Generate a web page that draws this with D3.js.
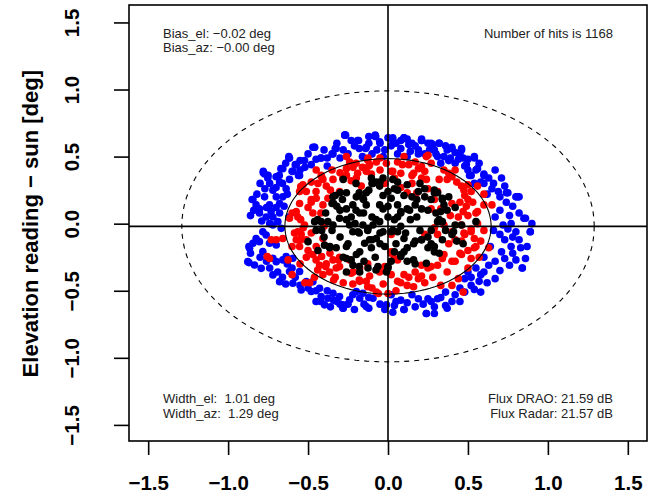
<!DOCTYPE html>
<html>
<head>
<meta charset="utf-8">
<script src="https://cdn.jsdelivr.net/npm/d3@7"></script>
<style>
  body { margin: 0; background: #fff; }
  svg { display: block; font-family: "Liberation Sans", Arial, sans-serif; }
</style>
</head>
<body>
<div id="chart"></div>
<script>
// azimuth / elevation offsets, by colour group
var bluePts = [
  [-0.27,0.66],[-0.19,0.62],[-0.08,0.65],[-0.05,0.6],[-0.14,0.56],[-0.21,0.58],[-0.18,0.56],[-0.33,0.56],[-0.35,0.52],[-0.46,0.57],
  [-0.42,0.49],[-0.38,0.49],[-0.3,0.49],[-0.62,0.49],[-0.55,0.47],[-0.58,0.44],[-0.67,0.41],[-0.6,0.39],[-0.56,0.36],[-0.78,0.39],
  [-0.75,0.36],[0.03,0.64],[0.08,0.62],[0.12,0.63],[0.17,0.58],[0.21,0.62],[0.27,0.6],[0.32,0.6],[0.37,0.55],[0.42,0.53],
  [0.45,0.52],[0.5,0.48],[0.02,0.58],[0.14,0.54],[0.19,0.52],[0.26,0.55],[0.3,0.52],[-0.1,0.52],[-0.25,0.52],[0.08,0.56],
  [-0.02,0.55],[0.35,0.5],[0.42,0.45],[0.48,0.43],[0.55,0.4],[0.6,0.37],[0.52,0.36],[0.38,0.47],[-0.48,0.44],[-0.38,0.43],[-0.52,0.42],
  [0.03,0.62],[0.1,0.64],[0.13,0.59],[0.21,0.62],[0.19,0.55],[0.28,0.59],[0.29,0.55],[0.31,0.5],[0.4,0.56],[0.39,0.49],
  [0.46,0.55],[0.47,0.49],[0.49,0.44],[0.54,0.49],[0.56,0.41],[0.58,0.31],[0.63,0.34],[0.67,0.4],[0.71,0.34],[0.65,0.26],
  [0.69,0.24],[0.75,0.23],[0.8,0.2],[0.74,0.16],[0.78,0.13],[0.7,0.1],[0.67,0.05],[0.72,-0.01],[0.77,0.0],[0.85,0.04],
  [0.89,-0.06],[0.82,-0.12],[0.77,-0.17],[0.73,-0.12],[0.7,-0.08],[0.66,-0.05],[0.71,-0.21],[0.78,-0.22],[0.76,-0.31],[0.84,-0.33],
  [0.67,-0.28],[0.63,-0.31],[0.6,-0.36],[0.67,-0.41],[0.57,-0.43],[0.52,-0.46],[0.54,-0.49],[0.48,-0.51],[0.42,-0.53],[0.45,-0.58],
  [0.36,-0.51],[0.31,-0.56],[0.36,-0.61],[0.29,-0.62],[0.24,-0.67],[0.25,-0.56],[0.19,-0.56],[0.17,-0.62],[0.1,-0.64],[0.08,-0.57],
  [0.04,-0.61],[0.02,-0.53],[0.64,-0.17],[0.6,-0.25],[0.55,-0.33],[0.9,0.0],[0.8,-0.06],[0.83,-0.18],[0.81,0.2],[0.73,0.28],
  [0.6,0.36],[0.51,0.36],[0.54,0.3],[0.5,-0.36],[0.48,-0.41],[0.58,-0.51],
  [-0.265,0.66],[-0.184,0.62],[-0.077,0.65],[-0.052,0.61],[-0.136,0.57],[-0.324,0.56],[-0.344,0.52],[-0.459,0.57],[-0.418,0.49],[-0.616,0.49],
  [-0.522,0.47],[-0.574,0.44],[-0.658,0.41],[-0.595,0.39],[-0.553,0.36],[-0.772,0.37],[-0.752,0.34],[-0.616,0.33],[-0.678,0.31],[-0.637,0.26],
  [-0.72,0.25],[-0.699,0.2],[-0.772,0.2],[-0.845,0.18],[-0.825,0.14],[-0.804,0.11],[-0.741,0.14],[-0.678,0.15],[-0.658,0.2],[-0.731,0.09],
  [-0.72,0.05],[-0.762,0.05],[-0.804,0.08],[-0.678,0.08],[-0.689,0.015],[-0.668,-0.035],[-0.72,-0.01],[-0.783,-0.06],[-0.762,-0.084],[-0.825,-0.11],
  [-0.845,-0.146],[-0.804,-0.134],[-0.866,-0.184],[-0.741,-0.146],[-0.699,-0.159],[-0.783,-0.208],[-0.877,-0.283],[-0.835,-0.308],[-0.793,-0.333],[-0.72,-0.258],
  [-0.699,-0.283],[-0.658,-0.27],[-0.637,-0.246],[-0.595,-0.258],[-0.72,-0.382],[-0.678,-0.432],[-0.616,-0.357],[-0.553,-0.357],[-0.595,-0.444],[-0.543,-0.494],
  [-0.511,-0.432],[-0.47,-0.432],[-0.48,-0.506],[-0.428,-0.481],[-0.418,-0.543],[-0.376,-0.556],[-0.397,-0.605],[-0.344,-0.519],[-0.303,-0.543],[-0.282,-0.605],
  [-0.24,-0.568],[-0.198,-0.506],[-0.177,-0.556],[-0.136,-0.618],[-0.157,-0.519],[-0.094,-0.556],[-0.01,-0.605],[-0.282,-0.63],
  [-0.28,-0.63],[-0.21,-0.64],[-0.12,-0.63],[0.03,-0.66],[0.1,-0.64],[0.24,-0.67],[0.29,-0.67],[0.37,-0.63],[-0.42,-0.58],[-0.34,-0.57],
  [-0.27,0.66],[-0.12,0.65],[-0.08,0.66],[0.1,0.64],[0.21,0.63],[0.32,0.6],[0.4,0.57],[0.46,0.56],[0.54,0.5],[-0.47,0.57],
  [-0.62,0.5],[-0.78,0.38],[-0.85,0.18],[-0.87,-0.17],[-0.87,-0.29],[0.86,0.04],[0.89,-0.06],[0.87,-0.17],[0.84,-0.33],[0.74,0.23],[0.82,0.2],
  [-0.8,0.3],[-0.77,0.26],[-0.82,0.22],[-0.74,0.3],[-0.7,0.35],[-0.66,0.3],[-0.7,0.27],[-0.63,0.22],[-0.76,0.12],[-0.7,0.12],
  [-0.84,0.1],[-0.86,0.06],[-0.79,0.02],[-0.74,0.0],[-0.65,0.13],[-0.62,0.05],
  [-0.86,-0.22],[-0.8,-0.25],[-0.76,-0.28],[-0.74,-0.33],[-0.69,-0.36],[-0.66,-0.4],[-0.63,-0.3],[-0.6,-0.33],[-0.64,-0.45],[-0.58,-0.4],
  [-0.55,-0.46],[-0.5,-0.48],[-0.45,-0.5],[-0.38,-0.5],[-0.32,-0.58],[-0.25,-0.6],[-0.22,-0.53],[-0.15,-0.6],[-0.12,-0.55],[-0.05,-0.6],
  [-0.02,-0.64],[-0.45,-0.58],[-0.36,-0.62],[-0.3,-0.6],
  [0.05,-0.58],[0.12,-0.59],[0.15,-0.53],[0.22,-0.6],[0.27,-0.58],[0.33,-0.55],[0.4,-0.58],[0.45,-0.48],[0.52,-0.4],[0.58,-0.38],
  [0.62,-0.44],[0.7,-0.35],[0.73,-0.26],[0.8,-0.27],[0.86,-0.26],[0.78,-0.1],[0.75,-0.04],[0.82,0.08],[0.76,0.06],
  [0.6,0.3],[0.66,0.3],[0.7,0.2],[0.62,0.22],[0.57,0.45],[0.5,0.4],[0.44,0.48],[0.36,0.58],[0.25,0.6],[0.15,0.6],
  [0.05,0.6],[0.0,0.64],[-0.03,0.5],[0.06,0.52],[0.12,0.5],[0.23,0.52],[0.33,0.45],
  [-0.4,0.55],[-0.32,0.6],[-0.23,0.62],[-0.12,0.6],[-0.16,0.5],[-0.07,0.55],[-0.45,0.48],[-0.5,0.52],[-0.55,0.4],[-0.64,0.45],
  [-0.68,0.36],[-0.28,0.55]
];

var redPts = [
  [-0.26,0.5],[-0.24,0.46],[-0.125,0.49],[-0.115,0.44],[-0.073,0.46],[-0.136,0.39],[-0.104,0.37],[-0.05,0.49],[-0.449,0.4],[-0.418,0.36],
  [-0.407,0.33],[-0.438,0.3],[-0.386,0.28],[-0.48,0.31],[-0.532,0.29],[-0.511,0.24],[-0.553,0.15],[-0.574,0.09],[-0.564,0.05],[-0.48,0.16],
  [-0.47,0.08],[-0.522,-0.01],[-0.564,-0.06],[-0.543,-0.08],[-0.574,-0.12],[-0.511,-0.12],[-0.48,-0.07],[-0.553,-0.17],[-0.449,-0.17],[-0.407,-0.11],
  [-0.699,-0.12],[-0.741,-0.26],[-0.511,-0.25],[-0.47,-0.23],[-0.428,-0.31],[-0.386,-0.3],[-0.344,-0.27],[-0.303,-0.32],[-0.49,-0.44],[-0.407,-0.38],
  [-0.365,-0.36],[-0.324,-0.33],[-0.303,-0.25],[-0.219,-0.36],[-0.177,-0.33],[-0.24,-0.27],[-0.115,-0.39],[-0.052,-0.36],[-0.073,-0.51],[-0.136,-0.43],
  [-0.177,-0.43],[-0.198,0.34],[-0.282,0.34],[-0.303,0.24],[-0.344,0.33],[-0.167,0.28],[-0.449,0.19],[-0.407,0.14],[-0.376,0.19],[-0.26,0.41],
  [-0.219,0.42],[-0.553,0.24],[-0.616,0.04],[-0.658,-0.11],
  [0.06,0.46],[0.1,0.5],[0.09,0.44],[0.17,0.46],[0.19,0.41],[0.23,0.39],[0.15,0.36],[0.02,0.39],[0.04,0.34],[0.21,0.34],
  [0.25,0.51],[0.27,0.45],[0.35,0.4],[0.4,0.35],[0.43,0.31],[0.46,0.28],[0.5,0.29],[0.52,0.24],[0.48,0.21],[0.45,0.16],
  [0.53,0.16],[0.56,0.09],[0.6,0.14],[0.65,0.14],[0.47,0.09],[0.5,0.06],[0.52,-0.06],[0.48,-0.08],[0.4,-0.06],[0.35,-0.01],
  [0.42,-0.12],[0.46,-0.13],[0.54,-0.11],[0.58,-0.13],[0.63,-0.18],[0.54,-0.18],[0.52,-0.26],[0.46,-0.23],[0.42,-0.28],[0.35,-0.23],
  [0.31,-0.31],[0.25,-0.33],[0.21,-0.31],[0.17,-0.36],[0.19,-0.41],[0.1,-0.38],[0.06,-0.43],[0.02,-0.38],[0.12,-0.46],[0.23,-0.44],
  [0.4,-0.46],[0.44,-0.41],[0.47,-0.51],[0.37,-0.36],[0.31,-0.08],[0.29,-0.03],[0.23,-0.08],[0.33,0.11],[0.27,0.11],[0.39,0.06],
  [0.02,-0.08],[0.02,-0.21],[0.04,-0.26],[0.31,0.24],[0.25,0.26],
  [-0.127,0.475],[-0.12,0.43],[-0.19,0.375],[-0.26,0.36],[-0.415,0.35],[-0.546,0.276],[-0.48,0.18],[-0.6,0.08],[-0.546,0.03],[-0.585,-0.07],
  [-0.546,-0.12],[-0.73,-0.12],[-0.756,-0.245],[-0.415,-0.245],[-0.363,-0.22],[-0.31,-0.27],[-0.39,-0.32],[-0.52,-0.44],[-0.18,-0.42],[-0.127,-0.47],
  [-0.06,-0.52],[0.0,-0.52],[0.08,-0.44],[0.16,-0.47],[0.21,-0.39],[0.27,-0.32],[0.34,-0.26],[0.4,-0.28],[0.45,-0.22],[0.5,-0.2],
  [0.55,-0.17],[0.475,-0.07],[0.52,-0.04],[0.46,-0.01],[0.55,0.08],[0.49,0.13],[0.4,0.15],[0.5,0.18],[0.475,0.25],[0.37,0.33],
  [0.38,0.375],[0.24,0.5],[0.21,0.425],[0.16,0.375],[0.24,0.33],[0.08,0.375],[0.03,0.39],[-0.05,0.4],[-0.02,0.3],[0.08,0.27],
  [0.12,0.23],[0.18,0.23],[0.29,0.18],[0.02,-0.22],[0.06,-0.27],[-0.02,-0.32],[-0.127,-0.3],[-0.23,-0.37],[-0.34,-0.42],[-0.44,-0.345],[-0.625,-0.27],
  [-0.35,0.4],[-0.3,0.38],[-0.2,0.45],[-0.16,0.42],[-0.45,0.24],[-0.5,0.12],[-0.42,0.08],[-0.53,-0.03],[-0.6,-0.17],[-0.5,-0.2],
  [-0.45,-0.27],[-0.55,-0.3],[-0.6,-0.38],[-0.46,-0.4],[-0.33,-0.4],[-0.28,-0.44],[-0.22,-0.45],[-0.1,-0.48],[-0.03,-0.45],[0.05,-0.5],
  [0.13,-0.4],[0.28,-0.4],[0.33,-0.46],[0.5,-0.33],[0.57,-0.25],[0.6,-0.05],[0.56,0.0],[0.6,0.22],[0.56,0.28],[0.42,0.4],
  [0.32,0.33],[0.13,0.44],[-0.01,0.45],[0.15,0.3],[-0.4,-0.02],[0.44,0.05],[0.38,-0.15],[-0.36,0.25],[-0.23,0.32]
];

var blackPts = [
  [-0.28,0.33],[-0.3,0.23],[-0.33,0.21],[-0.35,0.15],[-0.32,0.13],[-0.3,0.1],[-0.26,0.11],[-0.22,0.14],[-0.198,0.2],[-0.157,0.19],
  [-0.136,0.23],[-0.094,0.3],[-0.073,0.31],[-0.031,0.34],[-0.031,0.21],[-0.052,0.14],[-0.136,0.14],[-0.177,0.08],[-0.23,0.05],[-0.24,-0.01],
  [-0.22,-0.06],[-0.188,-0.06],[-0.157,-0.01],[-0.125,-0.035],[-0.094,-0.01],[-0.052,0.015],[-0.031,-0.06],[-0.073,-0.11],[-0.115,-0.12],[-0.146,-0.146],
  [-0.104,-0.18],[-0.177,-0.21],[-0.198,-0.23],[-0.26,-0.26],[-0.28,-0.25],[-0.324,-0.18],[-0.365,-0.18],[-0.397,-0.16],[-0.438,-0.2],[-0.5,-0.134],
  [-0.459,0.015],[-0.418,0.015],[-0.376,0.015],[-0.344,-0.01],[-0.303,0.04],[-0.26,0.03],[-0.219,-0.31],[-0.26,-0.36],[-0.177,-0.36],[-0.125,-0.33],
  [-0.063,-0.32],[-0.01,-0.36],[-0.104,0.34],[-0.052,0.28],[-0.344,0.2],[-0.031,0.11],
  [0.04,0.26],[0.06,0.31],[0.02,0.19],[0.1,0.21],[0.15,0.2],[0.19,0.24],[0.23,0.2],[0.27,0.18],[0.31,0.23],[0.34,0.19],
  [0.35,0.14],[0.06,0.14],[0.08,0.09],[0.12,0.11],[0.17,0.14],[0.21,0.11],[0.25,0.1],[0.3,0.08],[0.31,0.015],[0.34,0.015],
  [0.42,-0.01],[0.46,-0.01],[0.55,0.015],[0.04,0.03],[0.08,-0.02],[0.06,-0.06],[0.02,-0.06],[0.1,-0.11],[0.17,-0.13],[0.21,-0.12],
  [0.25,-0.1],[0.27,-0.15],[0.25,-0.18],[0.29,-0.21],[0.41,-0.06],[0.43,-0.13],[0.47,-0.15],[0.4,-0.08],[0.04,-0.21],[0.08,-0.23],
  [0.12,-0.28],[0.17,-0.3],[0.02,-0.28],[0.0,-0.33],[0.1,-0.21],[0.29,0.25],[0.23,0.26],[0.33,0.09],
  [-0.153,0.08],[-0.206,0.0],[-0.18,-0.07],[-0.127,-0.05],[-0.075,0.03],[-0.05,-0.07],[0.03,-0.05],[0.08,0.08],[0.135,0.1],[0.18,0.05],
  [0.11,-0.07],[0.16,-0.15],[0.21,-0.12],[0.29,-0.17],[0.32,-0.22],[0.24,-0.295],[0.16,-0.27],[0.08,-0.245],[-0.02,-0.17],[-0.1,-0.12],
  [-0.26,-0.17],[-0.363,-0.17],[-0.415,-0.05],[-0.44,0.03],[-0.39,0.08],[-0.34,0.15],[-0.285,0.18],[-0.26,0.23],[-0.18,0.23],[-0.153,0.18],
  [-0.1,0.3],[-0.05,0.31],[0.03,0.33],[0.06,0.25],[0.18,0.18],[0.29,0.23],[0.34,0.18],[0.37,0.1],[0.32,0.03],[0.27,-0.05],
  [-0.18,-0.32],[-0.075,-0.345],[0.0,-0.32],[-0.23,-0.27],[0.06,0.05],[0.0,0.13],
  [-0.2,0.1],[-0.1,0.05],[-0.05,-0.15],[0.0,0.05],[0.05,-0.15],[0.12,-0.18],[0.14,0.03],[0.2,-0.05],[-0.3,-0.1],[-0.35,-0.05],
  [-0.25,-0.15],[-0.15,-0.28],[-0.08,-0.25],[-0.12,0.25],[-0.2,0.3],[0.12,0.29],[0.2,0.3],[0.38,0.2],[0.42,0.12],[0.36,-0.05],
  [0.34,-0.12],[-0.4,-0.1],[-0.45,-0.05],[0.0,0.24]
];

var xTicks = [-1.5, -1.0, -0.5, 0.0, 0.5, 1.0, 1.5];
var yTicks = [-1.5, -1.0, -0.5, 0.0, 0.5, 1.0, 1.5];

var biasEl = -0.02, biasAz = 0.00;
var widthEl = 1.01, widthAz = 1.29;
var nHits = 1168;
var fluxDrao = 21.59, fluxRadar = 21.57;

var W = 656, H = 495;
var svg = d3.select("#chart").append("svg").attr("width", W).attr("height", H);
svg.append("rect").attr("width", W).attr("height", H).attr("fill", "#fff");

var x = d3.scaleLinear().domain([-1.62, 1.62]).range([129, 647]);
var y = d3.scaleLinear().domain([-1.62, 1.63]).range([441, 5]);
var fmt = d3.format(".1f");

// points: blue first, then red, black on top
var groups = [[bluePts, "#0000ff"], [redPts, "#ff0000"], [blackPts, "#000000"]];
groups.forEach(function(g) {
  svg.append("g").selectAll("circle")
     .data(g[0])
     .enter()
     .append("circle")
     .attr("cx", function(d) { return x(d[0]); })
     .attr("cy", function(d) { return y(d[1]); })
     .attr("r", 3.8)
     .attr("fill", g[1]);
});

// ellipses: full width (dashed) and half width (solid)
var path = d3.line().x(function(d) { return x(d[0]); }).y(function(d) { return y(d[1]); });
function ell(a, b) {
  return d3.range(0, 361, 3).map(function(t) {
    var r = t * Math.PI / 180;
    return [biasAz + a * Math.cos(r), biasEl + b * Math.sin(r)];
  });
}
svg.append("path").attr("d", path(ell(widthAz, widthEl)))
   .attr("fill", "none").attr("stroke", "#000").attr("stroke-width", 1.1)
   .attr("stroke-dasharray", "5,5");
svg.append("path").attr("d", path(ell(widthAz / 2, widthEl / 2)))
   .attr("fill", "none").attr("stroke", "#000").attr("stroke-width", 1.1);

// cross lines
svg.append("line").attr("x1", 129).attr("x2", 647).attr("y1", y(biasEl)).attr("y2", y(biasEl))
   .attr("stroke", "#000").attr("stroke-width", 1.6);
svg.append("line").attr("x1", x(biasAz)).attr("x2", x(biasAz)).attr("y1", 5).attr("y2", 441)
   .attr("stroke", "#000").attr("stroke-width", 1.6);

// box
svg.append("rect").attr("x", 129).attr("y", 5).attr("width", 518).attr("height", 436)
   .attr("fill", "none").attr("stroke", "#000").attr("stroke-width", 1.6);

// axes
var xAxis = svg.append("g").attr("transform", "translate(0,441)")
  .call(d3.axisBottom(x).tickValues(xTicks).tickSize(14).tickFormat(fmt));
xAxis.select(".domain").remove();
xAxis.selectAll("line").attr("stroke-width", 1.6);
xAxis.selectAll("text").attr("y", 49).attr("dy", 0)
  .style("font-size", "20.5px").style("font-weight", "bold")
  .style("font-family", "'Liberation Sans', Arial, sans-serif").attr("fill", "#000");

var yAxis = svg.append("g").attr("transform", "translate(129,0)")
  .call(d3.axisLeft(y).tickValues(yTicks).tickSize(15).tickFormat(fmt));
yAxis.select(".domain").remove();
yAxis.selectAll("line").attr("stroke-width", 1.6);
yAxis.selectAll("text").attr("x", 0).attr("dy", 0).attr("text-anchor", "middle")
  .attr("transform", "translate(-50,0) rotate(-90)")
  .style("font-size", "20.5px").style("font-weight", "bold")
  .style("font-family", "'Liberation Sans', Arial, sans-serif").attr("fill", "#000");

svg.append("text")
   .attr("transform", "translate(38," + y(0) + ") rotate(-90)")
   .attr("text-anchor", "middle")
   .style("font-size", "22px").style("font-weight", "bold")
   .text("Elevation reading \u2212 sun [deg]");

// annotations
function note(txt, px, py, anchor) {
  svg.append("text").attr("x", px).attr("y", py).attr("text-anchor", anchor)
     .style("font-size", "13px").style("white-space", "pre").attr("fill", "#222").text(txt);
}
note("Bias_el: " + d3.format(".2f")(biasEl) + " deg", 163, 38, "start");
note("Bias_az: \u2212" + d3.format(".2f")(Math.abs(biasAz)) + " deg", 163, 52, "start");
note("Number of hits is " + nHits, 613, 38, "end");
note("Width_el:  " + widthEl.toFixed(2) + " deg", 163, 403, "start");
note("Width_az:  " + widthAz.toFixed(2) + " deg", 163, 418, "start");
note("Flux DRAO: " + fluxDrao.toFixed(2) + " dB", 613, 403, "end");
note("Flux Radar: " + fluxRadar.toFixed(2) + " dB", 613, 418, "end");
</script>
</body>
</html>
